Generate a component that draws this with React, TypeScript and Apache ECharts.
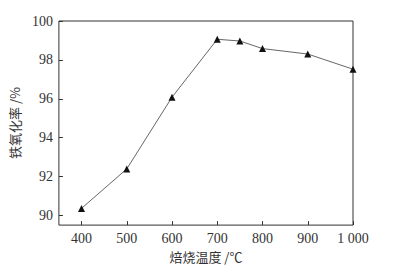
import React, { useEffect, useRef } from "react";
import * as echarts from "echarts";

const temperatures = [400, 500, 600, 700, 750, 800, 900, 1000];
const oxidationRate = [90.36, 92.39, 96.08, 99.06, 98.97, 98.58, 98.3, 97.52];
const xTicks = [400, 500, 600, 700, 800, 900, 1000];
const yTicks = [90, 92, 94, 96, 98, 100];

export default function App() {
  const ref = useRef<HTMLDivElement>(null);
  useEffect(() => {
    if (!ref.current) return;
    const chart = echarts.init(ref.current, null, { renderer: "svg" });
    const serif = "'Liberation Serif', 'Times New Roman', serif";
    chart.setOption({
      animation: false,
      backgroundColor: "#fff",
      grid: {
        left: 58,
        right: 46,
        top: 21,
        bottom: 41,
        show: true,
        borderColor: "#333",
        borderWidth: 1,
      },
      xAxis: {
        type: "value",
        min: 350,
        max: 1000,
        name: "焙烧温度 /℃",
        nameLocation: "middle",
        nameGap: 23,
        nameTextStyle: { fontFamily: "'Noto Sans CJK SC'", fontSize: 13, color: "#333" },
        axisLine: { show: false },
        splitLine: { show: false },
        axisTick: { show: true, inside: true, length: 4, customValues: xTicks, lineStyle: { color: "#333" } },
        axisLabel: {
          customValues: xTicks,
          fontFamily: serif,
          fontSize: 14,
          color: "#333",
          margin: 6,
          formatter: (v: number) => (v >= 1000 ? String(v).replace(/(\d)(\d{3})$/, "$1 $2") : String(v)),
        },
      },
      yAxis: {
        type: "value",
        min: 89.5,
        max: 100,
        name: "铁氧化率 /%",
        nameLocation: "middle",
        nameGap: 37,
        nameTextStyle: { fontFamily: "'Noto Sans CJK SC'", fontSize: 13, color: "#333" },
        axisLine: { show: false },
        splitLine: { show: false },
        axisTick: { show: true, inside: true, length: 4, customValues: yTicks, lineStyle: { color: "#333" } },
        axisLabel: {
          customValues: yTicks,
          fontFamily: serif,
          fontSize: 14,
          color: "#333",
          margin: 6,
        },
      },
      series: [
        {
          type: "line",
          data: temperatures.map((t, i) => [t, oxidationRate[i]]),
          symbol: "triangle",
          symbolSize: 7,
          itemStyle: { color: "#111" },
          lineStyle: { color: "#666", width: 1 },
        },
      ],
    });
    return () => chart.dispose();
  }, []);
  return <div ref={ref} style={{ width: 399, height: 268, position: "absolute", left: 0, top: 0 }} />;
}
